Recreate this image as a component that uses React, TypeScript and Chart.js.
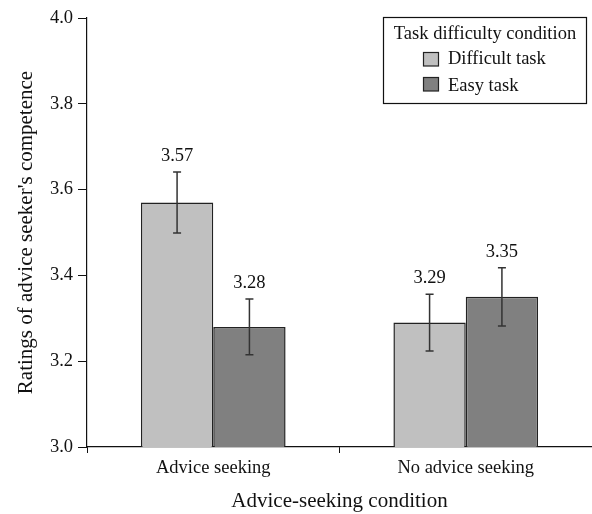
import React, { useEffect, useRef } from "react";
import { Chart, registerables } from "chart.js";

Chart.register(...registerables);

const categories = ["Advice seeking", "No advice seeking"];
const seriesNames = ["Difficult task", "Easy task"];
const difficultValues = [3.57, 3.29];
const easyValues = [3.28, 3.35];
const difficultErrors = [0.071, 0.066];
const easyErrors = [0.065, 0.068];
const yTicks = [3.0, 3.2, 3.4, 3.6, 3.8, 4.0];
const legendTitle = "Task difficulty condition";
const xTitle = "Advice-seeking condition";
const yTitle = "Ratings of advice seeker's competence";

const FONT = "'Liberation Serif', 'Times New Roman', serif";
const SMALL = 18.5;
const BIG = 21;

const errorPlugin = {
  id: "errorBars",
  afterDatasetsDraw(chart: any) {
    const ctx = chart.ctx;
    const yScale = chart.scales.y;
    chart.data.datasets.forEach((ds: any, di: number) => {
      const meta = chart.getDatasetMeta(di);
      meta.data.forEach((bar: any, i: number) => {
        const v = ds.data[i];
        const e = ds.errors[i];
        const x = bar.x;
        const yTop = yScale.getPixelForValue(v + e);
        const yBot = yScale.getPixelForValue(v - e);
        ctx.save();
        ctx.strokeStyle = "#333";
        ctx.lineWidth = 1.5;
        ctx.beginPath();
        ctx.moveTo(x, yTop);
        ctx.lineTo(x, yBot);
        ctx.moveTo(x - 4, yTop);
        ctx.lineTo(x + 4, yTop);
        ctx.moveTo(x - 4, yBot);
        ctx.lineTo(x + 4, yBot);
        ctx.stroke();
        ctx.fillStyle = "#111";
        ctx.font = `${SMALL}px ${FONT}`;
        ctx.textAlign = "center";
        ctx.textBaseline = "alphabetic";
        ctx.fillText(v.toFixed(2), x, yTop - 11);
        ctx.restore();
      });
    });
  },
};

const legendPlugin = {
  id: "boxLegend",
  afterDraw(chart: any) {
    const ctx = chart.ctx;
    const left = 383;
    const top = 17;
    const w = 203;
    const h = 86;
    ctx.save();
    ctx.fillStyle = "#fff";
    ctx.fillRect(left, top, w, h);
    ctx.strokeStyle = "#111";
    ctx.lineWidth = 1.2;
    ctx.strokeRect(left + 0.5, top + 0.5, w, h);
    ctx.fillStyle = "#111";
    ctx.font = `${SMALL}px ${FONT}`;
    ctx.textAlign = "center";
    ctx.textBaseline = "alphabetic";
    ctx.fillText(legendTitle, left + w / 2 + 0.5, 38.5);
    ctx.textAlign = "left";
    const baselines = [63.5, 91];
    const swTops = [52, 77];
    chart.data.datasets.forEach((ds: any, i: number) => {
      ctx.fillStyle = ds.backgroundColor;
      ctx.fillRect(423.5, swTops[i] + 0.5, 15, 13.5);
      ctx.strokeStyle = "#222";
      ctx.lineWidth = 1.2;
      ctx.strokeRect(423.5, swTops[i] + 0.5, 15, 13.5);
      ctx.fillStyle = "#111";
      ctx.fillText(ds.label, 448, baselines[i]);
    });
    ctx.restore();
  },
};

export default function App() {
  const ref = useRef<HTMLCanvasElement>(null);
  useEffect(() => {
    if (!ref.current) return;
    const chart = new Chart(ref.current, {
      type: "bar",
      data: {
        labels: categories,
        datasets: [
          {
            label: seriesNames[0],
            data: difficultValues,
            errors: difficultErrors,
            backgroundColor: "#c0c0c0",
            borderColor: "#222",
            borderWidth: 1.5,
            categoryPercentage: 0.573,
            barPercentage: 1.0,
          } as any,
          {
            label: seriesNames[1],
            data: easyValues,
            errors: easyErrors,
            backgroundColor: "#808080",
            borderColor: "#222",
            borderWidth: 1.5,
            categoryPercentage: 0.573,
            barPercentage: 1.0,
          } as any,
        ],
      },
      options: {
        animation: false,
        responsive: false,
        layout: { padding: { top: 18, right: 0, left: 0, bottom: 0 } },
        plugins: {
          legend: { display: false },
          tooltip: { enabled: false },
        },
        scales: {
          x: {
            grid: {
              display: true,
              drawOnChartArea: false,
              drawTicks: true,
              tickLength: 6,
              color: "#111",
              offset: true,
            },
            border: { display: true, color: "#111", width: 1.2 },
            ticks: {
              color: "#111",
              font: { family: FONT, size: SMALL },
              padding: 4,
              maxRotation: 0,
            },
            title: {
              display: true,
              text: xTitle,
              color: "#111",
              font: { family: FONT, size: BIG },
              padding: { top: 0, bottom: 0 },
            },
            afterFit(scale: any) {
              scale.height = 67;
            },
          },
          y: {
            min: 3,
            max: 4,
            afterBuildTicks(scale: any) {
              scale.ticks = yTicks.map((v) => ({ value: v }));
            },
            grid: {
              display: true,
              drawOnChartArea: false,
              drawTicks: true,
              tickLength: 9,
              color: "#111",
            },
            border: { display: true, color: "#111", width: 1.2 },
            ticks: {
              color: "#111",
              font: { family: FONT, size: SMALL },
              padding: 5,
              callback: (v: any) => Number(v).toFixed(1),
            },
            title: {
              display: true,
              text: yTitle,
              color: "#111",
              font: { family: FONT, size: BIG },
              padding: { top: 14, bottom: 0 },
            },
            afterFit(scale: any) {
              scale.width = 87;
            },
          },
        },
      },
      plugins: [errorPlugin, legendPlugin],
    });
    return () => chart.destroy();
  }, []);
  return (
    <canvas
      ref={ref}
      width={592}
      height={514}
      style={{ position: "absolute", left: 0, top: 0, display: "block" }}
    />
  );
}
